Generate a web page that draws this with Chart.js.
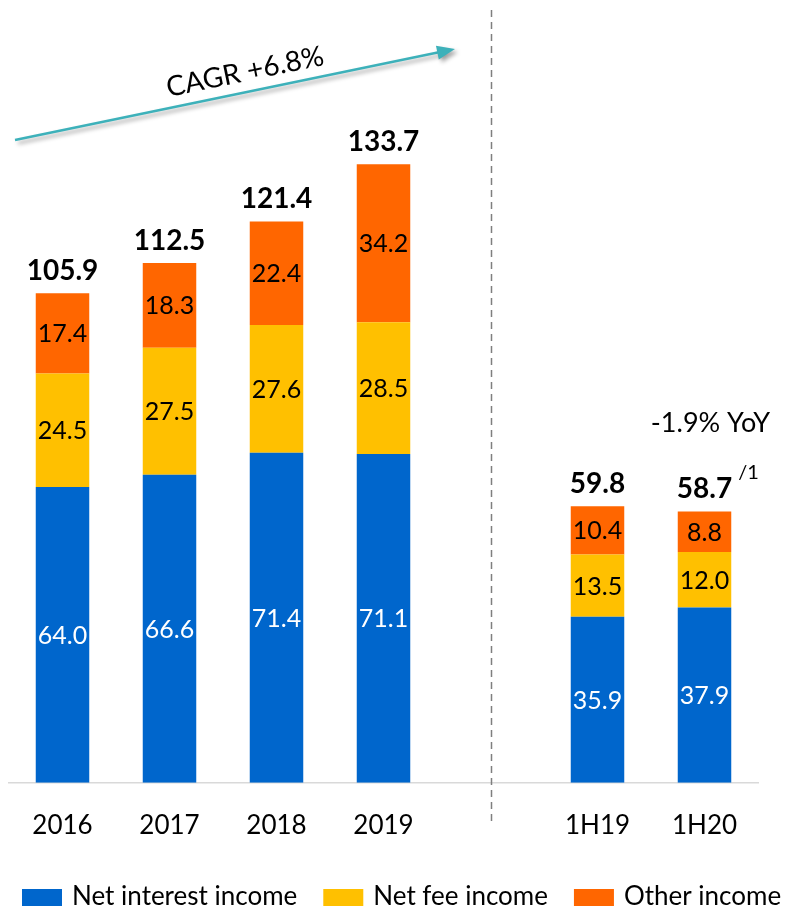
<!DOCTYPE html>
<html>
<head>
<meta charset="utf-8">
<script src="https://cdn.jsdelivr.net/npm/chart.js@4.4.0/dist/chart.umd.min.js"></script>
<style>
  html, body { margin: 0; padding: 0; background: #fff; }
  #wrap { width: 786px; height: 911px; position: relative; }
</style>
</head>
<body>
<div id="wrap"><canvas id="chart"></canvas></div>
<script>
const categories = ['2016', '2017', '2018', '2019', '', '1H19', '1H20'];
const netInterest = [64.0, 66.6, 71.4, 71.1, null, 35.9, 37.9];
const netFee = [24.5, 27.5, 27.6, 28.5, null, 13.5, 12.0];
const otherIncome = [17.4, 18.3, 22.4, 34.2, null, 10.4, 8.8];
const totals = [105.9, 112.5, 121.4, 133.7, null, 59.8, 58.7];
const seriesNames = ['Net interest income', 'Net fee income', 'Other income'];
const seriesColors = ['#0066CC', '#FFC000', '#FF6600'];

const FONT = 'Lato, "Open Sans", sans-serif';

// labels, totals, divider, CAGR arrow and legend
const annotations = {
  id: 'annotations',
  afterDatasetsDraw(chart) {
    const ctx = chart.ctx;
    const xs = chart.scales.x;
    ctx.save();

    // values inside segments
    ctx.textAlign = 'center';
    ctx.textBaseline = 'middle';
    ctx.font = '25px ' + FONT;
    chart.data.datasets.forEach((ds, di) => {
      chart.getDatasetMeta(di).data.forEach((bar, i) => {
        const v = ds.data[i];
        if (v == null) return;
        ctx.fillStyle = di === 0 ? '#fff' : '#000';
        ctx.fillText(v.toFixed(1), bar.x, (bar.y + bar.base) / 2 + 1);
      });
    });

    // totals on top
    const topBars = chart.getDatasetMeta(2).data;
    ctx.font = 'bold 28px ' + FONT;
    ctx.fillStyle = '#000';
    ctx.textBaseline = 'alphabetic';
    totals.forEach((t, i) => {
      if (t == null) return;
      ctx.fillText(t.toFixed(1), topBars[i].x, topBars[i].y - 13);
    });

    // footnote marker and YoY
    const last = topBars[6];
    const w = ctx.measureText(totals[6].toFixed(1)).width;
    ctx.font = '20px ' + FONT;
    ctx.textAlign = 'left';
    ctx.fillText('/1', last.x + w / 2 + 6, last.y - 32);
    ctx.font = '27px ' + FONT;
    ctx.textAlign = 'center';
    ctx.fillText('-1.9% YoY', last.x + 6, 432);

    // dashed divider
    const dx = Math.round(xs.getPixelForValue(4)) + 0.5;
    ctx.strokeStyle = '#7f7f7f';
    ctx.lineWidth = 1.5;
    ctx.setLineDash([7, 5]);
    ctx.beginPath();
    ctx.moveTo(dx, 10);
    ctx.lineTo(dx, 826);
    ctx.stroke();
    ctx.setLineDash([]);

    // CAGR arrow
    const x0 = 15, y0 = 140, x1 = 455, y1 = 49;
    const ang = Math.atan2(y1 - y0, x1 - x0);
    ctx.save();
    ctx.shadowColor = 'rgba(0,0,0,0.35)';
    ctx.shadowBlur = 4;
    ctx.shadowOffsetX = 3;
    ctx.shadowOffsetY = 3;
    ctx.strokeStyle = '#3DB1BA';
    ctx.fillStyle = '#3DB1BA';
    ctx.lineWidth = 2.5;
    ctx.beginPath();
    ctx.moveTo(x0, y0);
    ctx.lineTo(x1 - 14 * Math.cos(ang), y1 - 14 * Math.sin(ang));
    ctx.stroke();
    ctx.translate(x1, y1);
    ctx.rotate(ang);
    ctx.beginPath();
    ctx.moveTo(0, 0);
    ctx.lineTo(-18, -7);
    ctx.lineTo(-18, 7);
    ctx.closePath();
    ctx.fill();
    ctx.restore();

    ctx.save();
    ctx.translate(245, 72);
    ctx.rotate(ang);
    ctx.font = '28px ' + FONT;
    ctx.fillStyle = '#000';
    ctx.textAlign = 'center';
    ctx.textBaseline = 'middle';
    ctx.fillText('CAGR +6.8%', 0, 0);
    ctx.restore();

    // legend
    let lx = 22;
    const ly = 897;
    ctx.font = '26px ' + FONT;
    ctx.textAlign = 'left';
    ctx.textBaseline = 'middle';
    seriesNames.forEach((name, i) => {
      ctx.fillStyle = seriesColors[i];
      ctx.fillRect(lx, ly - 8, 40, 17);
      ctx.fillStyle = '#000';
      ctx.fillText(name, lx + 50, ly);
      lx += 50 + ctx.measureText(name).width + 26;
    });

    ctx.restore();
  }
};

new Chart(document.getElementById('chart'), {
  type: 'bar',
  data: {
    labels: categories,
    datasets: [
      { label: seriesNames[0], data: netInterest, backgroundColor: seriesColors[0] },
      { label: seriesNames[1], data: netFee, backgroundColor: seriesColors[1] },
      { label: seriesNames[2], data: otherIncome, backgroundColor: seriesColors[2] }
    ]
  },
  options: {
    responsive: true,
    maintainAspectRatio: false,
    animation: false,
    layout: { padding: { top: 43, left: 9, right: 28, bottom: 43 } },
    datasets: { bar: { barPercentage: 0.5, categoryPercentage: 1.0 } },
    scales: {
      x: {
        stacked: true,
        grid: { display: false, drawTicks: false },
        border: { display: true, color: '#D9D9D9', width: 1.5 },
        ticks: { color: '#000', font: { family: FONT, size: 26 }, padding: 27 }
      },
      y: {
        stacked: true,
        display: false,
        min: 0,
        max: 160
      }
    },
    plugins: {
      legend: { display: false },
      tooltip: { enabled: false }
    }
  },
  plugins: [annotations]
});
</script>
</body>
</html>
